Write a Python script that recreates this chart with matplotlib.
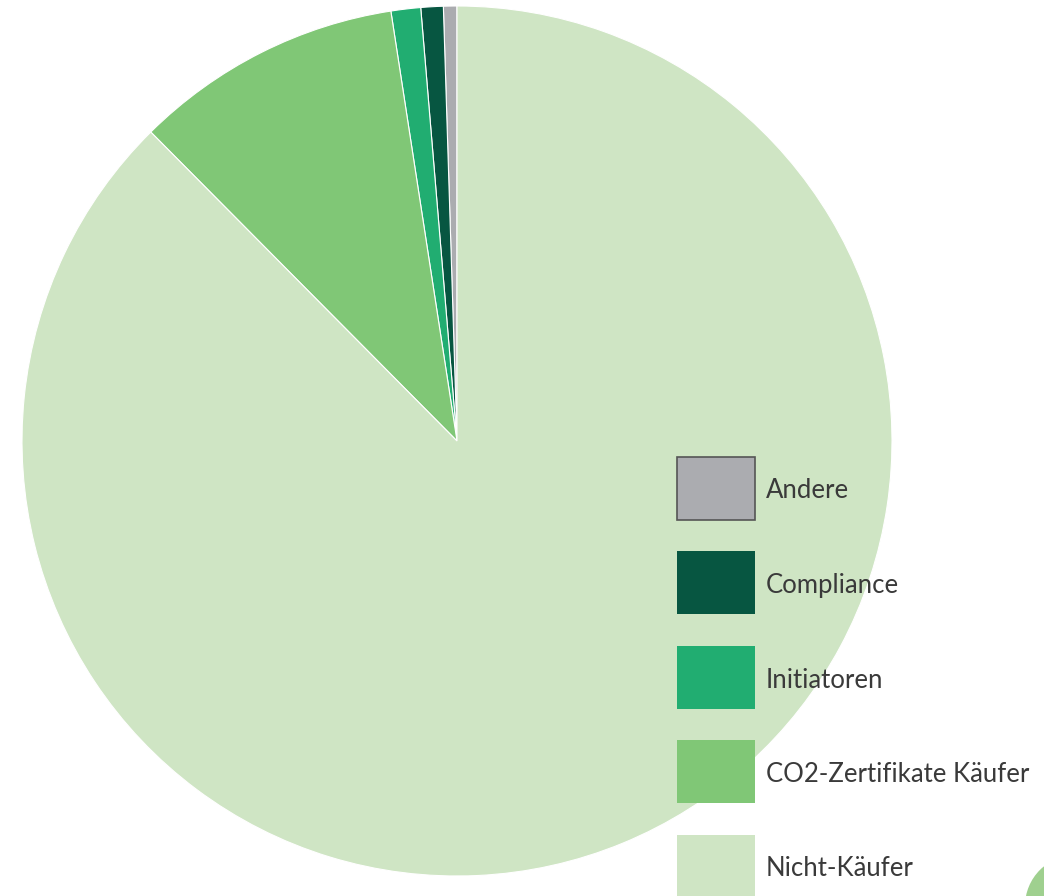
import matplotlib
matplotlib.use("Agg")
import matplotlib.pyplot as plt
from matplotlib.patches import Rectangle, Circle

# Anteile (Prozent), gegen den Uhrzeigersinn ab 12 Uhr
labels = ["Andere", "Compliance", "Initiatoren", "CO2-Zertifikate Käufer", "Nicht-Käufer"]
shares = [0.5, 0.83, 1.1, 10.0, 87.57]
colors = ["#ABACB0", "#075641", "#21AD71", "#80C776", "#CFE5C4"]

W, H = 1044, 896
fig = plt.figure(figsize=(W / 100, H / 100), dpi=100)

# Kreisdiagramm
ax = fig.add_axes([22 / W, 1 - 876 / H, 870 / W, 870 / H])
ax.pie(shares, colors=colors, startangle=90, counterclock=True, radius=1,
       wedgeprops=dict(edgecolor="white", linewidth=0.8))
ax.set_xlim(-1, 1)
ax.set_ylim(-1, 1)
ax.set_aspect("equal")
ax.axis("off")

# Legende als Overlay in Pixelkoordinaten
lx = fig.add_axes([0, 0, 1, 1])
lx.set_xlim(0, W)
lx.set_ylim(H, 0)
lx.axis("off")

# Deko-Form unten rechts
lx.add_patch(Circle((1076, 906), 51, facecolor="#9FD08F", edgecolor="none"))

y0, step = 457, 94.5
for i, (lab, col) in enumerate(zip(labels, colors)):
    y = y0 + i * step
    ec = "#555555" if lab == "Andere" else col
    lx.add_patch(Rectangle((677, y), 78, 63, facecolor=col, edgecolor=ec,
                           linewidth=1.2 if lab == "Andere" else 0))
    lx.text(766, y + 34, lab, ha="left", va="center", fontsize=18.5,
            family=["Lato", "DejaVu Sans"], color="#3a3a3a")

fig.savefig("out.png", dpi=100)
